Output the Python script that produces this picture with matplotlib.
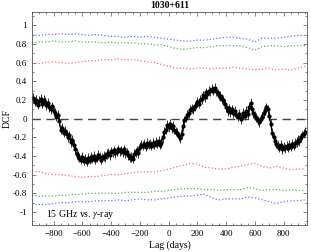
import numpy as np
import matplotlib
matplotlib.use("Agg")
import matplotlib.pyplot as plt
from matplotlib.ticker import MultipleLocator

plt.rcParams['font.family'] = ['Liberation Serif', 'DejaVu Serif']
plt.rcParams['mathtext.fontset'] = 'stix'

# DCF values, lag step 10 days from -940 to 950
lag = np.arange(-940, 951, 10)
dcf = [
    0.22, 0.18, 0.20, 0.15, 0.19, 0.21, 0.16, 0.20, 0.18, 0.14,
    0.17, 0.12, 0.10, 0.13, 0.08, 0.06, 0.02, 0.04, -0.03, -0.12,
    -0.10, -0.15, -0.13, -0.17, -0.20, -0.18, -0.25, -0.23, -0.28, -0.33,
    -0.38, -0.40, -0.42, -0.44, -0.41, -0.45, -0.43, -0.46, -0.42, -0.44,
    -0.41, -0.43, -0.40, -0.44, -0.42, -0.39, -0.41, -0.44, -0.42, -0.40,
    -0.41, -0.38, -0.37, -0.39, -0.35, -0.36, -0.34, -0.37, -0.35, -0.33,
    -0.35, -0.34, -0.36, -0.33, -0.37, -0.36, -0.39, -0.42, -0.41, -0.43,
    -0.38, -0.36, -0.34, -0.37, -0.30, -0.28, -0.29, -0.27, -0.30, -0.26,
    -0.28, -0.27, -0.29, -0.26, -0.28, -0.25, -0.27, -0.24, -0.28, -0.26,
    -0.20, -0.14, -0.12, -0.07, -0.09, -0.06, -0.10, -0.08, -0.12, -0.14,
    -0.15, -0.19, -0.21, -0.16, -0.08, -0.02, 0.01, 0.04, 0.06, 0.09,
    0.11, 0.10, 0.13, 0.15, 0.18, 0.16, 0.20, 0.21, 0.25, 0.23,
    0.28, 0.26, 0.30, 0.29, 0.32, 0.30, 0.33, 0.29, 0.27, 0.25,
    0.24, 0.21, 0.20, 0.16, 0.12, 0.08, 0.11, 0.07, 0.10, 0.06,
    0.08, 0.04, 0.02, 0.05, -0.01, 0.02, 0.06, 0.03, 0.08, 0.05,
    0.12, 0.17, 0.10, 0.06, 0.03, 0.01, -0.02, -0.04, 0.00, 0.02,
    0.06, 0.09, 0.12, 0.10, 0.03, -0.06, -0.15, -0.20, -0.24, -0.27,
    -0.29, -0.31, -0.28, -0.33, -0.30, -0.32, -0.29, -0.31, -0.28, -0.30,
    -0.27, -0.29, -0.26, -0.25, -0.23, -0.24, -0.20, -0.18, -0.16, -0.14,
]
dcf_err = 0.05

# significance levels, lag step 50 days from -950 to 950
lag_sig = np.arange(-950, 951, 50)
blue_up = [0.90, 0.89, 0.90, 0.90, 0.91, 0.90, 0.91, 0.90, 0.89, 0.90, 0.89, 0.88, 0.88,
           0.87, 0.88, 0.87, 0.88, 0.87, 0.86, 0.85, 0.84, 0.83, 0.83, 0.84, 0.84, 0.85,
           0.86, 0.87, 0.87, 0.86, 0.85, 0.82, 0.86, 0.86, 0.86, 0.87, 0.88, 0.89, 0.89]
green_up = [0.81, 0.82, 0.82, 0.83, 0.82, 0.82, 0.83, 0.82, 0.82, 0.82, 0.81, 0.82, 0.81,
            0.81, 0.81, 0.80, 0.80, 0.79, 0.79, 0.77, 0.75, 0.74, 0.75, 0.76, 0.76, 0.77,
            0.78, 0.78, 0.78, 0.78, 0.76, 0.73, 0.77, 0.78, 0.78, 0.77, 0.78, 0.78, 0.78]
red_up = [0.59, 0.59, 0.60, 0.61, 0.60, 0.59, 0.60, 0.61, 0.62, 0.62, 0.63, 0.63, 0.64,
          0.63, 0.63, 0.62, 0.61, 0.60, 0.58, 0.56, 0.54, 0.54, 0.53, 0.54, 0.54, 0.53,
          0.54, 0.54, 0.55, 0.54, 0.53, 0.52, 0.53, 0.54, 0.52, 0.53, 0.52, 0.54, 0.56]
red_lo = [-0.56, -0.57, -0.59, -0.60, -0.60, -0.61, -0.62, -0.63, -0.62, -0.62, -0.61, -0.60, -0.60,
          -0.59, -0.58, -0.57, -0.57, -0.57, -0.56, -0.54, -0.52, -0.50, -0.48, -0.49, -0.52, -0.53,
          -0.54, -0.54, -0.52, -0.51, -0.49, -0.48, -0.51, -0.53, -0.51, -0.53, -0.55, -0.54, -0.54]
green_lo = [-0.82, -0.83, -0.83, -0.83, -0.82, -0.82, -0.81, -0.81, -0.80, -0.80, -0.80, -0.80, -0.80,
            -0.79, -0.79, -0.79, -0.79, -0.78, -0.78, -0.77, -0.76, -0.75, -0.75, -0.75, -0.76, -0.76,
            -0.77, -0.76, -0.76, -0.76, -0.74, -0.75, -0.77, -0.76, -0.76, -0.77, -0.76, -0.77, -0.77]
blue_lo = [-0.92, -0.92, -0.92, -0.91, -0.90, -0.90, -0.89, -0.89, -0.89, -0.88, -0.88, -0.88, -0.87,
           -0.88, -0.87, -0.86, -0.87, -0.87, -0.86, -0.85, -0.84, -0.83, -0.83, -0.82, -0.81, -0.85,
           -0.87, -0.86, -0.86, -0.86, -0.84, -0.85, -0.87, -0.89, -0.91, -0.89, -0.88, -0.88, -0.87]

fig = plt.figure(figsize=(3.11, 2.52), dpi=100)
ax = fig.add_axes([0.103, 0.107, 0.884, 0.845])

for up, lo, c in [(blue_up, blue_lo, '#6f6fff'), (green_up, green_lo, '#50b850'),
                  (red_up, red_lo, '#ff6f6f')]:
    ax.plot(lag_sig, up, ':', color=c, lw=0.9)
    ax.plot(lag_sig, lo, ':', color=c, lw=0.9)

ax.axhline(0, color='#444444', lw=1.0, dashes=(6, 4))

ax.errorbar(lag, dcf, yerr=dcf_err, fmt='-o', color='black', ms=2.0, lw=0.9,
            ecolor='#333333', elinewidth=0.7, capsize=0)

ax.set_xlim(-950, 962)
ax.set_ylim(-1.14, 1.14)
ax.xaxis.set_major_locator(MultipleLocator(200))
ax.xaxis.set_minor_locator(MultipleLocator(50))
ax.yaxis.set_major_locator(MultipleLocator(0.2))
ax.yaxis.set_minor_locator(MultipleLocator(0.1))
ax.tick_params(which='both', direction='in', top=True, right=True, labelsize=6.5,
               width=0.5, color='#555555')
ax.tick_params(which='major', length=3)
ax.tick_params(which='minor', length=1.5)
ax.yaxis.set_major_formatter(plt.FuncFormatter(lambda v, p: f"{round(v, 2):g}" if abs(v) > 1e-9 else "0"))
for s in ax.spines.values():
    s.set_linewidth(0.6)
    s.set_color('#555555')

ax.set_xlabel('Lag (days)', fontsize=7, labelpad=2)
ax.set_ylabel('DCF', fontsize=7, labelpad=1)
ax.set_title('1030+611', fontsize=7, fontweight='bold', pad=3)
ax.text(0.05, 0.05, r'15 GHz vs. $\gamma$-ray', transform=ax.transAxes, fontsize=7, va='center')

fig.savefig('out.png', dpi=100)
